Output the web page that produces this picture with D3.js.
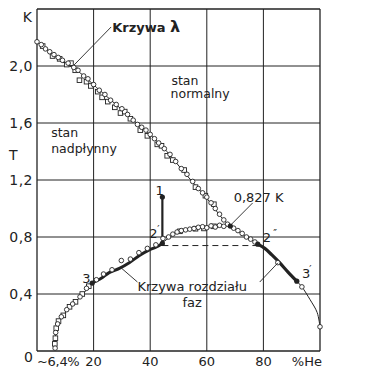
<!DOCTYPE html>
<html><head><meta charset="utf-8">
<script src="https://cdn.jsdelivr.net/npm/d3@7"></script>
<style>
html,body{margin:0;padding:0;background:#fff;}
svg text{font-family:"DejaVu Sans",sans-serif;fill:#222;}
</style></head>
<body><svg id="c" width="365" height="385"></svg>
<script>
// ---- data (x: % He-3, T: K) ----
const xGrid = [0, 20, 40, 60, 80, 100];
const yGrid = [0, 0.4, 0.8, 1.2, 1.6, 2.0, 2.4];
const xTickValues = [20, 40, 60, 80];
const xTickLabels = ["20", "40", "60", "80"];
const yTickValues = [0.4, 0.8, 1.2, 1.6, 2.0];
const yTickLabels = ["0,4", "0,8", "1,2", "1,6", "2,0"];

const lambdaLine = [[0,2.17],[4.3,2.10],[8.9,2.03],[12.5,1.99],[16,1.94],[21,1.85],[25.6,1.77],[30.2,1.69],[35.2,1.60],[39.9,1.52],[45.9,1.40],[50.5,1.29],[54.8,1.19],[60.1,1.07],[65.5,0.93],[68.3,0.877]];
const lambdaCircles = [[0,2.17],[1.5,2.15],[3,2.12],[4.5,2.10],[6,2.08],[7.5,2.06],[9,2.04],[11,2.02],[13,1.99],[14.5,1.97],[16.5,1.93],[18,1.91],[20,1.87],[22,1.83],[24,1.80],[26,1.76],[28,1.73],[30,1.70],[32,1.66],[34,1.62],[35.5,1.59],[37,1.57],[38.5,1.55],[40,1.52],[41.5,1.49],[43,1.46],[45,1.42],[47,1.38],[49,1.33],[51,1.28],[53,1.24],[55,1.19],[57,1.14],[58.5,1.11],[60,1.08],[61.5,1.04],[63,1.00],[64.5,0.96],[66,0.92],[67.3,0.89]];
const lambdaSquares = [[2,2.14],[5.5,2.07],[8,2.05],[10.5,2.01],[12,2.02],[13.5,1.97],[15,1.90],[17.5,1.89],[19,1.86],[21.5,1.82],[23,1.78],[25,1.75],[27.5,1.71],[29.5,1.67],[31,1.68],[33,1.63],[36.5,1.55],[39,1.51],[42.5,1.45],[44,1.44],[46,1.37],[48,1.34],[52,1.27],[56,1.15],[59.5,1.09],[62.5,1.03]];

const sepLine = [[6.4,0],[6.4,0.05],[6.6,0.12],[7,0.17],[7.8,0.22],[9.6,0.26],[11.3,0.30],[13.1,0.34],[14.9,0.37],[16.7,0.41],[19.5,0.477],[22.7,0.51],[25.5,0.55],[29.1,0.58],[32.6,0.62],[36.2,0.67],[39.7,0.71],[42.2,0.73],[44.3,0.76],[47,0.80],[49.6,0.835],[53.9,0.856],[57.4,0.863],[61,0.87],[64.5,0.873],[68.3,0.877],[70.6,0.847],[72.7,0.82],[76.2,0.775],[78,0.75],[80.5,0.72],[83,0.674],[85.8,0.618],[88.7,0.554],[91.8,0.49],[93.6,0.45],[96.5,0.36],[99,0.27],[100,0.17]];
const sepCircles = [[6.4,0.02],[6.6,0.13],[7.3,0.19],[8.6,0.24],[10.5,0.29],[12.6,0.33],[15.2,0.38],[17.5,0.44],[21,0.50],[23.5,0.54],[26.5,0.57],[29.8,0.635],[33,0.645],[36,0.69],[39,0.72],[42,0.745],[44.5,0.79],[46.5,0.80],[48,0.82],[49.5,0.835],[51,0.845],[52.5,0.85],[54,0.855],[55.5,0.86],[57,0.868],[58.5,0.872],[60,0.865],[61.5,0.878],[63,0.87],[64.5,0.882],[66,0.875],[69.5,0.862],[71,0.845],[72.5,0.825],[74,0.80],[75.5,0.785],[77,0.765],[85.1,0.62],[93.6,0.45],[100,0.17]];
const sepSquares = [[6.3,0.05],[6.5,0.09],[6.8,0.16],[7.6,0.21],[9.3,0.25],[11.5,0.31],[13.6,0.345],[16,0.40],[18.3,0.455],[50.5,0.84],[56,0.858],[59,0.86],[62.5,0.875]];
const thickLeft = [[19.5,0.477],[22.7,0.51],[25.5,0.55],[29.1,0.58],[32.6,0.62],[36.2,0.67],[39.7,0.71],[42.2,0.73],[44.3,0.755]];
const thickRight = [[78,0.75],[80.5,0.72],[83,0.674],[85.8,0.618],[88.7,0.554],[91.8,0.49]];
const filledDots = [[19.5,0.477],[44.3,0.755],[68.3,0.877],[78,0.75],[91.8,0.49]];
const tieLine = [[44.3,0.74],[78,0.74]];
const point1 = [44.3, 1.08];

const texts = [
  {t:"stan", x:47.5, y:1.87, size:12.5},
  {t:"normalny", x:47.2, y:1.772, size:12.5},
  {t:"stan", x:5.0, y:1.50, size:12.5},
  {t:"nadpłynny", x:5.0, y:1.39, size:12.5},
  {t:"1", x:43.3, y:1.095, size:13, anchor:"middle"},
  {t:"0,827 K", x:69.5, y:1.046, size:13},
  {t:"2", x:39.7, y:0.793, size:13},
  {t:"2", x:79.8, y:0.765, size:13},
  {t:"3", x:16.0, y:0.477, size:13},
  {t:"3", x:93.6, y:0.512, size:13},
  {t:"Krzywa rozdziału", x:35.5, y:0.421, size:13},
  {t:"faz", x:51.4, y:0.309, size:13}
];
const primes = [
  {t:"′", x:42.5, y:0.825},
  {t:"″", x:83.5, y:0.80},
  {t:"′", x:96.2, y:0.545}
];
const leaders = [
  [[26.2,2.274],[13.1,2.007]],
  [[76.2,1.039],[68.1,0.877]],
  [[35.5,0.484],[29.8,0.582]],
  [[78.7,0.484],[85.1,0.618]]
];

// ---- scales ----
const x = d3.scaleLinear().domain([0,100]).range([37,320]);
const y = d3.scaleLinear().domain([0,2.4]).range([351,9]);
const svg = d3.select("#c");
const ink = "#222";

// grid
svg.append("g").selectAll("line").data(xGrid).join("line")
  .attr("x1",d=>x(d)).attr("x2",d=>x(d)).attr("y1",y(0)).attr("y2",y(2.4))
  .attr("stroke",ink).attr("stroke-width",d=>(d===0||d===100)?1.3:1);
svg.append("g").selectAll("line").data(yGrid).join("line")
  .attr("y1",d=>y(d)).attr("y2",d=>y(d)).attr("x1",x(0)).attr("x2",x(100))
  .attr("stroke",ink).attr("stroke-width",d=>(d===0||d===2.4)?1.3:1);

// tick labels
svg.append("g").selectAll("text").data(yTickValues).join("text")
  .attr("x",33).attr("y",d=>y(d)).attr("dy","0.35em").attr("text-anchor","end")
  .style("font-size","14px").style("letter-spacing","0.5px")
  .text((d,i)=>yTickLabels[i]);
svg.append("text").attr("x",33).attr("y",362).attr("text-anchor","end").style("font-size","14px").text("0");
svg.append("text").attr("x",32).attr("y",22).attr("text-anchor","end").style("font-size","14px").text("K");
svg.append("text").attr("x",9).attr("y",160).style("font-size","14px").text("T");
svg.append("g").selectAll("text").data(xTickValues).join("text")
  .attr("x",d=>x(d)).attr("y",366).attr("text-anchor","middle")
  .style("font-size","13px").text((d,i)=>xTickLabels[i]);
svg.append("text").attr("x",37).attr("y",366).style("font-size","13px").style("letter-spacing","-0.3px").text("~6,4%");
svg.append("text").attr("x",322).attr("y",366).attr("text-anchor","end").style("font-size","13px").text("%He");

// curves
const line = d3.line().x(d=>x(d[0])).y(d=>y(d[1])).curve(d3.curveCatmullRom);
svg.append("path").attr("d",line(lambdaLine)).attr("fill","none").attr("stroke",ink).attr("stroke-width",1);
svg.append("path").attr("d",line(sepLine)).attr("fill","none").attr("stroke",ink).attr("stroke-width",1);
svg.append("path").attr("d",line(thickLeft)).attr("fill","none").attr("stroke",ink).attr("stroke-width",3);
svg.append("path").attr("d",line(thickRight)).attr("fill","none").attr("stroke",ink).attr("stroke-width",3.2);
svg.append("path").attr("d",d3.line().x(d=>x(d[0])).y(d=>y(d[1]))(tieLine))
  .attr("fill","none").attr("stroke",ink).attr("stroke-width",1).attr("stroke-dasharray","6,4");

// point 1 vertical
svg.append("line").attr("x1",x(point1[0])).attr("x2",x(point1[0])).attr("y1",y(point1[1])).attr("y2",y(0.745))
  .attr("stroke",ink).attr("stroke-width",2.2);
svg.append("circle").attr("cx",x(point1[0])).attr("cy",y(point1[1])).attr("r",2.6).attr("fill",ink);

// markers
function circles(data){
  svg.append("g").selectAll("circle").data(data).join("circle")
    .attr("cx",d=>x(d[0])).attr("cy",d=>y(d[1])).attr("r",2.3)
    .attr("fill","#fff").attr("stroke",ink).attr("stroke-width",0.9);
}
function squares(data){
  svg.append("g").selectAll("rect").data(data).join("rect")
    .attr("x",d=>x(d[0])-2.3).attr("y",d=>y(d[1])-2.3).attr("width",4.6).attr("height",4.6)
    .attr("fill","#fff").attr("stroke",ink).attr("stroke-width",0.9);
}
squares(lambdaSquares);
circles(lambdaCircles);
squares(sepSquares);
circles(sepCircles);
svg.append("g").selectAll("circle").data(filledDots).join("circle")
  .attr("cx",d=>x(d[0])).attr("cy",d=>y(d[1])).attr("r",2.6).attr("fill",ink);

// leaders
svg.append("g").selectAll("path").data(leaders).join("path")
  .attr("d",d=>d3.line().x(p=>x(p[0])).y(p=>y(p[1]))(d))
  .attr("fill","none").attr("stroke",ink).attr("stroke-width",0.9);

// "Krzywa λ" title with larger lambda
const kt = svg.append("text").attr("x",x(26.6)).attr("y",y(2.24)).style("font-size","13px").style("font-weight","bold");
kt.append("tspan").text("Krzywa ");
kt.append("tspan").style("font-size","16px").text("λ");

// texts
svg.append("g").selectAll("text").data(texts).join("text")
  .attr("x",d=>x(d.x)).attr("y",d=>y(d.y)).attr("text-anchor",d=>d.anchor||"start")
  .style("font-size",d=>d.size+"px").style("font-weight",d=>d.weight||"normal")
  .text(d=>d.t);
svg.append("g").selectAll("text").data(primes).join("text")
  .attr("x",d=>x(d.x)).attr("y",d=>y(d.y)).style("font-size","10px").text(d=>d.t);
</script></body></html>
